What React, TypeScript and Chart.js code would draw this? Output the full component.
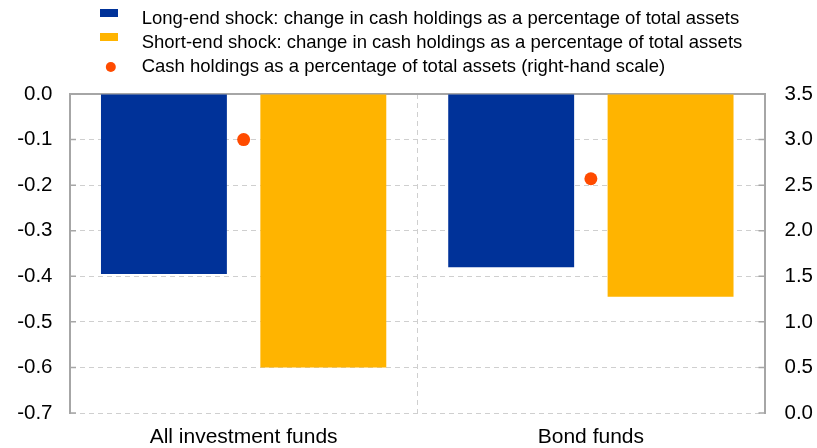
import React, { useEffect, useRef } from 'react';
import { Chart, registerables } from 'chart.js';

Chart.register(...registerables);

// ---- data ----
const categories = ['All investment funds', 'Bond funds'];
const seriesLabels = [
  'Long-end shock: change in cash holdings as a percentage of total assets',
  'Short-end shock: change in cash holdings as a percentage of total assets',
  'Cash holdings as a percentage of total assets (right-hand scale)',
];
const longEndShock = [-0.395, -0.38];
const shortEndShock = [-0.6, -0.445];
const cashHoldings = [3.0, 2.57];
const leftTicks = [0, -0.1, -0.2, -0.3, -0.4, -0.5, -0.6, -0.7];
const rightTicks = [0, 0.5, 1, 1.5, 2, 2.5, 3, 3.5];

// ---- styles ----
const BLUE = '#003299';
const YELLOW = '#FFB400';
const ORANGE = '#FF4B00';
const AXIS = '#a6a6a6';
const GRID = '#cfcfcf';
const FONT = "'Liberation Sans', Arial, sans-serif";

function rectIcon(color: string) {
  const c = document.createElement('canvas');
  c.width = 30;
  c.height = 20;
  const g = c.getContext('2d')!;
  g.fillStyle = color;
  g.fillRect(11, 0, 18, 8);
  return c;
}

function dotIcon(color: string) {
  const c = document.createElement('canvas');
  c.width = 30;
  c.height = 20;
  const g = c.getContext('2d')!;
  g.fillStyle = color;
  g.beginPath();
  g.arc(21.8, 10, 5, 0, Math.PI * 2);
  g.fill();
  return c;
}

// short inward tick marks on both value axes
const innerTicks = {
  id: 'innerTicks',
  afterDatasetsDraw(chart: any) {
    const { ctx, chartArea } = chart;
    const y = chart.scales.y;
    const y1 = chart.scales.y1;
    ctx.save();
    ctx.strokeStyle = AXIS;
    ctx.lineWidth = 1.5;
    ctx.beginPath();
    y.ticks.forEach((t: any) => {
      const p = y.getPixelForValue(t.value);
      ctx.moveTo(chartArea.left, p);
      ctx.lineTo(chartArea.left + 6, p);
    });
    y1.ticks.forEach((t: any) => {
      const p = y1.getPixelForValue(t.value);
      ctx.moveTo(chartArea.right - 6, p);
      ctx.lineTo(chartArea.right, p);
    });
    ctx.stroke();
    ctx.restore();
  },
};

export default function App() {
  const ref = useRef<HTMLCanvasElement | null>(null);

  useEffect(() => {
    document.body.style.margin = '0';
    const icons = [rectIcon(BLUE), rectIcon(YELLOW), dotIcon(ORANGE)];
    const fmt = (v: any) => Number(v).toFixed(1);

    const chart = new Chart(ref.current!, {
      type: 'bar',
      data: {
        labels: categories,
        datasets: [
          {
            label: seriesLabels[0],
            data: longEndShock,
            backgroundColor: BLUE,
            borderWidth: 0,
            yAxisID: 'y',
            categoryPercentage: 0.918,
            barPercentage: 0.79,
          },
          {
            label: seriesLabels[1],
            data: shortEndShock,
            backgroundColor: YELLOW,
            borderWidth: 0,
            yAxisID: 'y',
            categoryPercentage: 0.918,
            barPercentage: 0.79,
          },
          {
            type: 'line',
            label: seriesLabels[2],
            data: cashHoldings,
            yAxisID: 'y1',
            showLine: false,
            pointRadius: 6.5,
            pointHoverRadius: 6.5,
            pointBackgroundColor: ORANGE,
            pointBorderWidth: 0,
            borderColor: ORANGE,
            backgroundColor: ORANGE,
          } as any,
        ],
      },
      options: {
        animation: false,
        responsive: true,
        maintainAspectRatio: false,
        layout: { padding: { top: 4.25, left: 0, right: 0, bottom: 0 } },
        font: { family: FONT },
        plugins: {
          tooltip: { enabled: false },
          legend: {
            position: 'top',
            align: 'start',
            fullSize: false,
            labels: {
              usePointStyle: true,
              pointStyleWidth: 56.95,
              boxHeight: 12,
              padding: 5.5,
              color: '#000',
              font: { size: 18.5, family: FONT },
              sort: (a: any, b: any) => a.datasetIndex - b.datasetIndex,
              generateLabels: (ch: any) => {
                const items = (Chart.defaults.plugins.legend.labels as any).generateLabels(ch);
                return items.map((it: any) => ({ ...it, pointStyle: icons[it.datasetIndex] }));
              },
            },
          },
        },
        scales: {
          x: {
            type: 'category',
            offset: true,
            grid: {
              offset: true,
              drawTicks: false,
              color: (c: any) => (c.index === 1 ? GRID : 'rgba(0,0,0,0)'),
              lineWidth: 1,
            },
            border: { display: false, dash: [5, 4] },
            ticks: { color: '#000', font: { size: 21, family: FONT }, padding: 12, maxRotation: 0 },
            afterFit: (s: any) => { s.height = 35; },
          },
          x2: {
            type: 'category',
            position: 'top',
            labels: categories,
            offset: true,
            grid: { drawOnChartArea: false, drawTicks: false },
            ticks: { display: false },
            border: { display: true, color: AXIS, width: 2 },
            afterFit: (s: any) => { s.height = 7.75; },
          },
          y: {
            type: 'linear',
            position: 'left',
            min: -0.7,
            max: 0,
            grid: { color: GRID, lineWidth: 1, drawTicks: false },
            border: { display: true, color: AXIS, width: 2, dash: [5, 4] },
            ticks: { color: '#000', font: { size: 20.5, family: FONT }, padding: 17.5, callback: fmt },
            afterBuildTicks: (s: any) => { s.ticks = leftTicks.map((v) => ({ value: v })); },
            afterFit: (s: any) => { s.width = 70; },
          },
          y1: {
            type: 'linear',
            position: 'right',
            min: 0,
            max: 3.5,
            grid: { drawOnChartArea: false, drawTicks: false },
            border: { display: true, color: AXIS, width: 2 },
            ticks: { color: '#000', font: { size: 20.5, family: FONT }, padding: 20, callback: fmt },
            afterBuildTicks: (s: any) => { s.ticks = rightTicks.map((v) => ({ value: v })); },
            afterFit: (s: any) => { s.width = 52.5; },
          },
        },
      },
      plugins: [innerTicks],
    });
    return () => chart.destroy();
  }, []);

  return (
    <div style={{ position: 'relative', width: 817, height: 448 }}>
      <canvas ref={ref} />
    </div>
  );
}
